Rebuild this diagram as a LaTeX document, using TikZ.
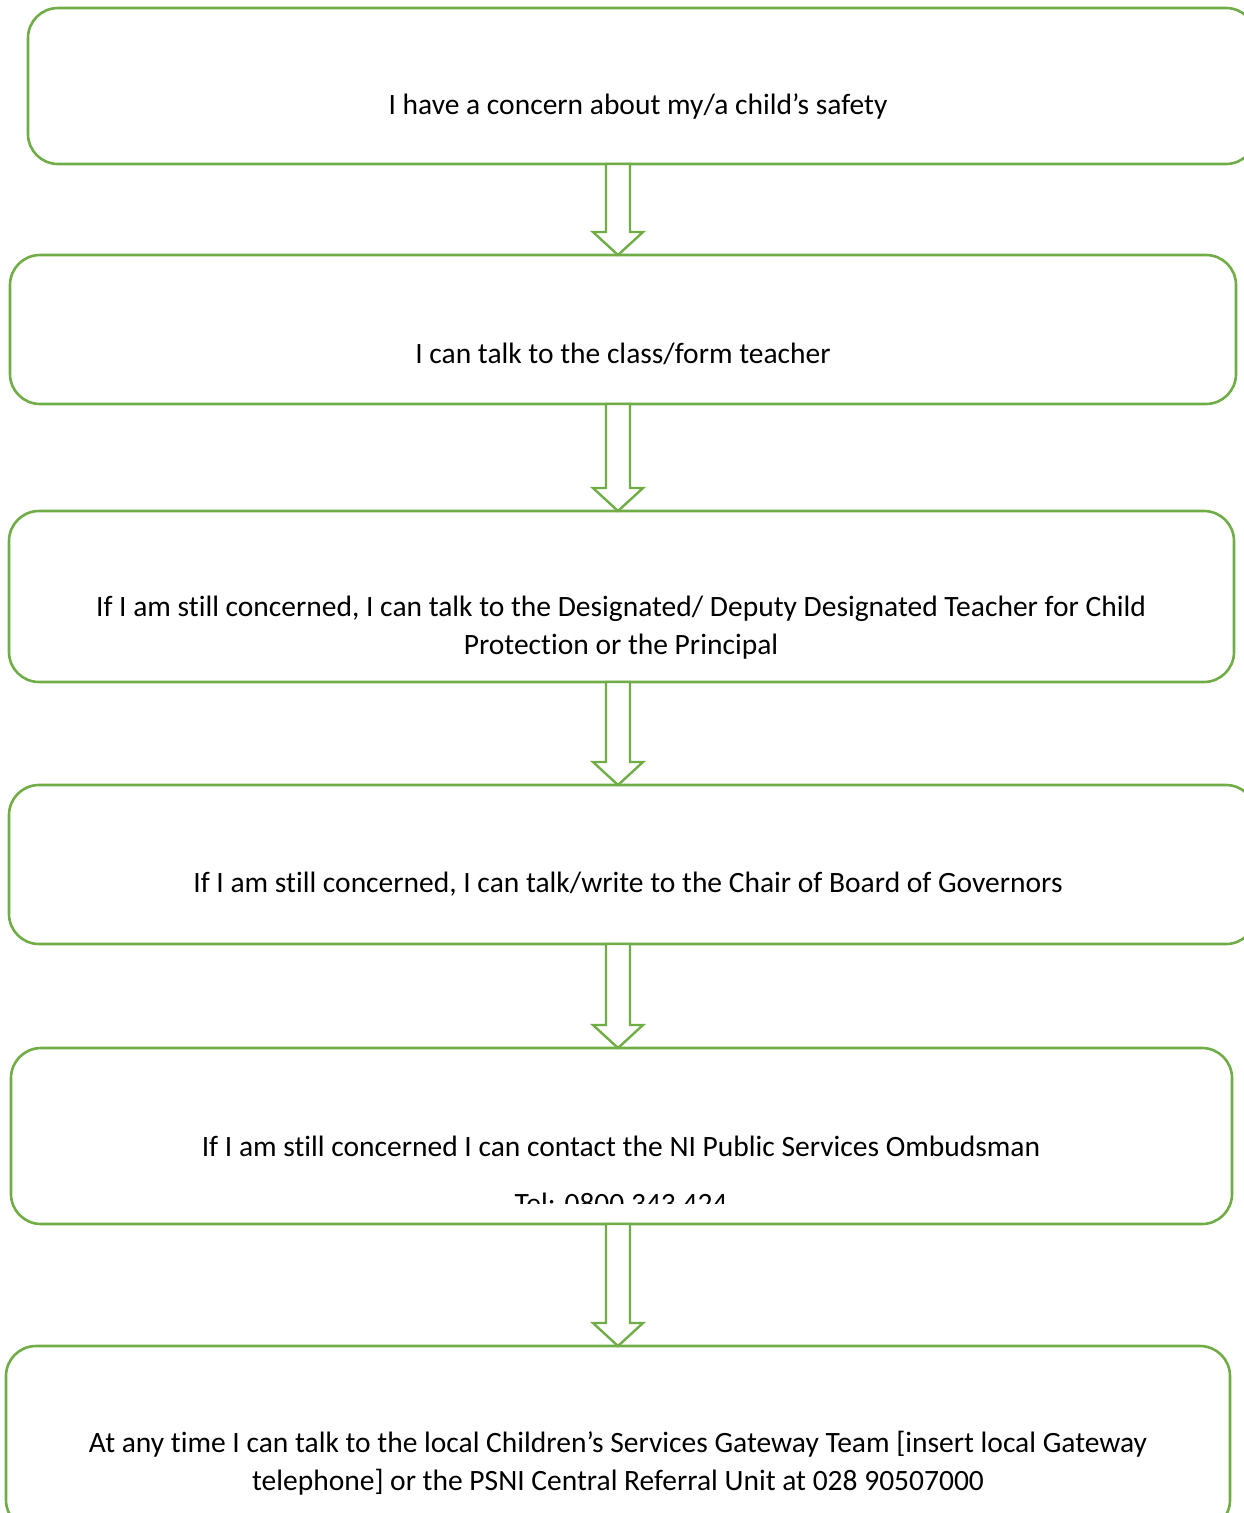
\documentclass[tikz,border=0pt]{standalone}
\usepackage{fontspec}
\setmainfont{Carlito}[RawFeature={-liga}]
\usetikzlibrary{calc}
\definecolor{gr}{HTML}{70AD47}
\tikzset{
  box/.style={draw=gr, line width=2.6pt, rounded corners=30pt, fill=none},
  txt/.style={font=\fontsize{29.5}{38}\selectfont, align=center, text=black, inner sep=0pt},
  blockarrow/.style={draw=gr, line width=2.4pt, fill=white, line join=miter},
}
\begin{document}
\begin{tikzpicture}[x=1pt,y=-1pt]
\useasboundingbox (0,0) rectangle (1244,1513);
% boxes
\path[box] (28,8) rectangle (1256,164);
\coordinate (b1) at (618,164);
\path[box] (10,255) rectangle (1236,404);
\coordinate (b2t) at (618,255); \coordinate (b2) at (618,404);
\path[box] (9,511) rectangle (1234,682);
\coordinate (b3t) at (618,511); \coordinate (b3) at (618,682);
\path[box] (9,785) rectangle (1256,944);
\coordinate (b4t) at (618,785); \coordinate (b4) at (618,944);
\path[box] (11,1048) rectangle (1232,1224);
\coordinate (b5t) at (618,1048); \coordinate (b5) at (618,1224);
\path[box] (6,1346) rectangle (1230,1530);
\coordinate (b6t) at (618,1346);
% texts
\node[txt] (t1) at (638,106) {I have a concern about my/a child’s safety};
\node[txt] (t2) at (623,354) {I can talk to the class/form teacher};
\node[txt] (t3) at (621,628) {If I am still concerned, I can talk to the Designated/ Deputy Designated Teacher for Child\\Protection or the Principal};
\node[txt] (t4) at (628,884) {If I am still concerned, I can talk/write to the Chair of Board of Governors};
\node[txt] (t5) at (621,1146) {If I am still concerned I can contact the NI Public Services Ombudsman};
\begin{scope}
\clip (0,1100) rectangle (1244,1203);
\node[txt] (t5b) at (621,1203) {Tel: 0800 343 424};
\end{scope}
\node[txt] (t6) at (618,1463) {At any time I can talk to the local Children’s Services Gateway Team [insert local Gateway\\telephone] or the PSNI Central Referral Unit at 028 90507000};
% block arrows
\foreach \a/\b in {b1/b2t, b2/b3t, b3/b4t, b4/b5t, b5/b6t}{
  \draw[blockarrow] let \p1=(\a), \p2=(\b) in
    (\x1-12,\y1) -- (\x1+12,\y1) -- (\x1+12,\y2+23) -- (\x1+25,\y2+23)
    -- (\x2,\y2) -- (\x1-25,\y2+23) -- (\x1-12,\y2+23) -- cycle;
}
\end{tikzpicture}
\end{document}
